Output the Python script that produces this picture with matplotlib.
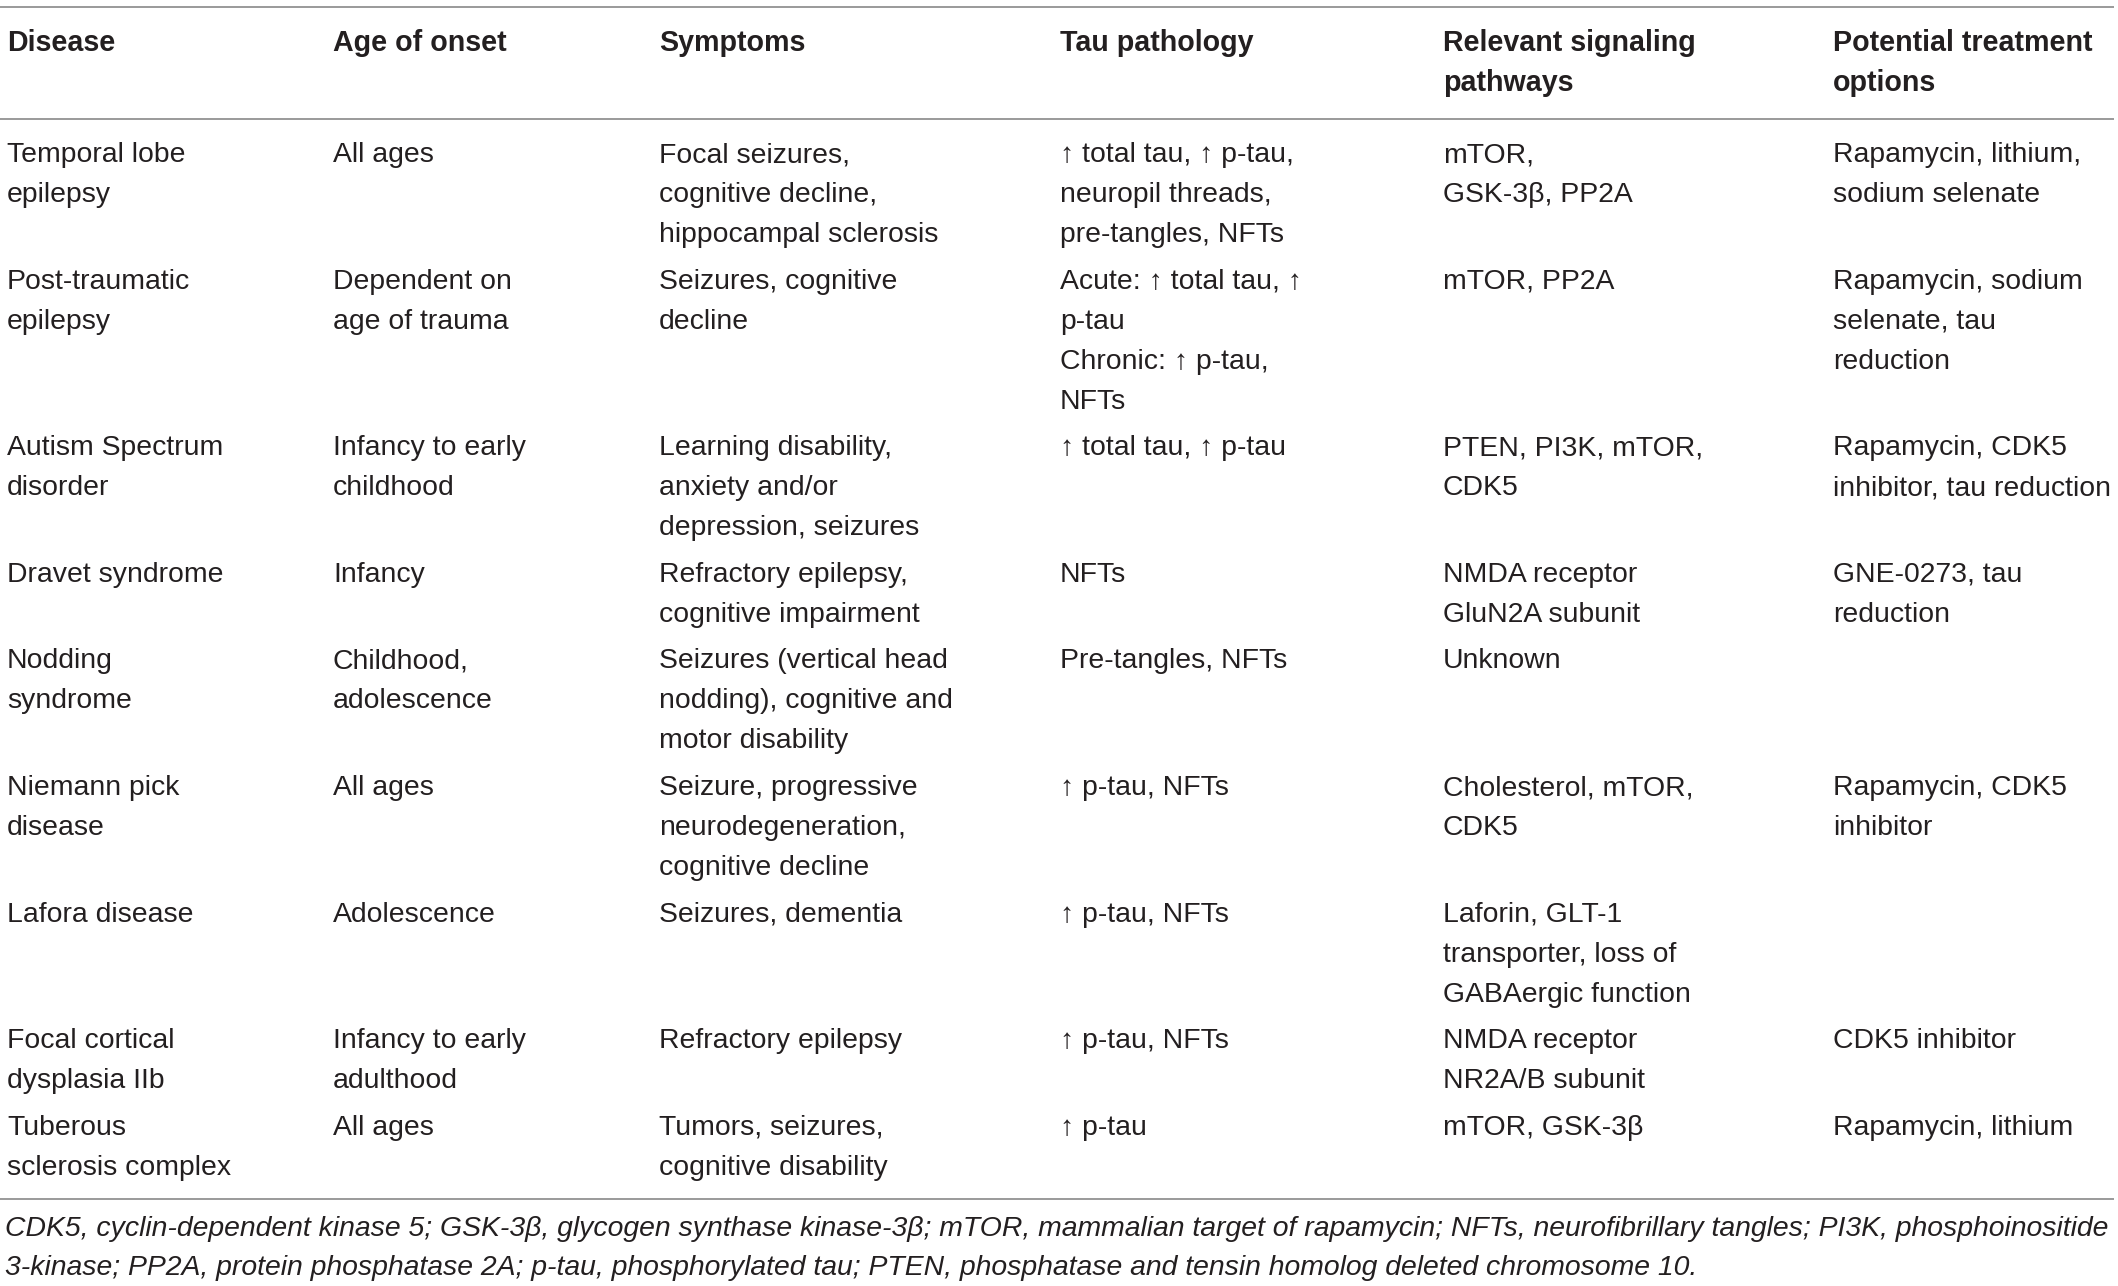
"""Tau pathology in epilepsy-related disorders: table figure."""

import matplotlib
matplotlib.use("Agg")
import matplotlib.pyplot as plt

plt.rcParams["font.family"] = ["Liberation Sans", "DejaVu Sans"]

# table content
headers = [
    "Disease",
    "Age of onset",
    "Symptoms",
    "Tau pathology",
    "Relevant signaling\npathways",
    "Potential treatment\noptions",
]

diseases = [
    "Temporal lobe\nepilepsy",
    "Post-traumatic\nepilepsy",
    "Autism Spectrum\ndisorder",
    "Dravet syndrome",
    "Nodding\nsyndrome",
    "Niemann pick\ndisease",
    "Lafora disease",
    "Focal cortical\ndysplasia IIb",
    "Tuberous\nsclerosis complex",
]

onset = [
    "All ages",
    "Dependent on\nage of trauma",
    "Infancy to early\nchildhood",
    "Infancy",
    "Childhood,\nadolescence",
    "All ages",
    "Adolescence",
    "Infancy to early\nadulthood",
    "All ages",
]

symptoms = [
    "Focal seizures,\ncognitive decline,\nhippocampal sclerosis",
    "Seizures, cognitive\ndecline",
    "Learning disability,\nanxiety and/or\ndepression, seizures",
    "Refractory epilepsy,\ncognitive impairment",
    "Seizures (vertical head\nnodding), cognitive and\nmotor disability",
    "Seizure, progressive\nneurodegeneration,\ncognitive decline",
    "Seizures, dementia",
    "Refractory epilepsy",
    "Tumors, seizures,\ncognitive disability",
]

tau = [
    "↑ total tau, ↑ p-tau,\nneuropil threads,\npre-tangles, NFTs",
    "Acute: ↑ total tau, ↑\np-tau\nChronic: ↑ p-tau,\nNFTs",
    "↑ total tau, ↑ p-tau",
    "NFTs",
    "Pre-tangles, NFTs",
    "↑ p-tau, NFTs",
    "↑ p-tau, NFTs",
    "↑ p-tau, NFTs",
    "↑ p-tau",
]

pathways = [
    "mTOR,\nGSK-3β, PP2A",
    "mTOR, PP2A",
    "PTEN, PI3K, mTOR,\nCDK5",
    "NMDA receptor\nGluN2A subunit",
    "Unknown",
    "Cholesterol, mTOR,\nCDK5",
    "Laforin, GLT-1\ntransporter, loss of\nGABAergic function",
    "NMDA receptor\nNR2A/B subunit",
    "mTOR, GSK-3β",
]

treatment = [
    "Rapamycin, lithium,\nsodium selenate",
    "Rapamycin, sodium\nselenate, tau\nreduction",
    "Rapamycin, CDK5\ninhibitor, tau reduction",
    "GNE-0273, tau\nreduction",
    "",
    "Rapamycin, CDK5\ninhibitor",
    "",
    "CDK5 inhibitor",
    "Rapamycin, lithium",
]

footnote = [
    "CDK5, cyclin-dependent kinase 5; GSK-3β, glycogen synthase kinase-3β; mTOR, "
    "mammalian target of rapamycin; NFTs, neurofibrillary tangles; PI3K, phosphoinositide",
    "3-kinase; PP2A, protein phosphatase 2A; p-tau, phosphorylated tau; PTEN, "
    "phosphatase and tensin homolog deleted chromosome 10.",
]

# layout (pixels)
W, H = 2118, 1286
col_x = [7, 333, 659, 1060, 1443, 1833]
pitch = 40.0
row_gap = 6.6
first_row = 155.0
head_y = 43.0
fs = 20.4
txt_color = "#231f20"
rule_color = "#9a9a9a"

fig = plt.figure(figsize=(W / 100, H / 100), dpi=100)
ax = fig.add_axes([0, 0, 1, 1])
ax.set_xlim(0, W)
ax.set_ylim(H, 0)
ax.axis("off")


def cell(x, y, s, size=fs, **kw):
    for i, line in enumerate(s.split("\n")):
        if line:
            ax.text(x, y + i * pitch, line, fontsize=size, color=txt_color,
                    va="center", ha="left", **kw)


# rules
ax.hlines([7, 119, 1199], 0, 2114, color=rule_color, lw=1.4)

for x, h in zip(col_x, headers):
    cell(x, head_y, h, size=fs * 1.012, fontweight="bold")

columns = [diseases, onset, symptoms, tau, pathways, treatment]
y = first_row
for r in range(len(diseases)):
    cells = [c[r] for c in columns]
    for x, s in zip(col_x, cells):
        cell(x, y, s)
    nlines = max(s.count("\n") + 1 for s in cells)
    y += nlines * pitch + row_gap

for i, line in enumerate(footnote):
    ax.text(col_x[0] - 2, 1229.0 + i * 39.2, line, fontsize=fs, color=txt_color,
            va="center", ha="left", style="italic")

fig.savefig("out.png", dpi=100)
